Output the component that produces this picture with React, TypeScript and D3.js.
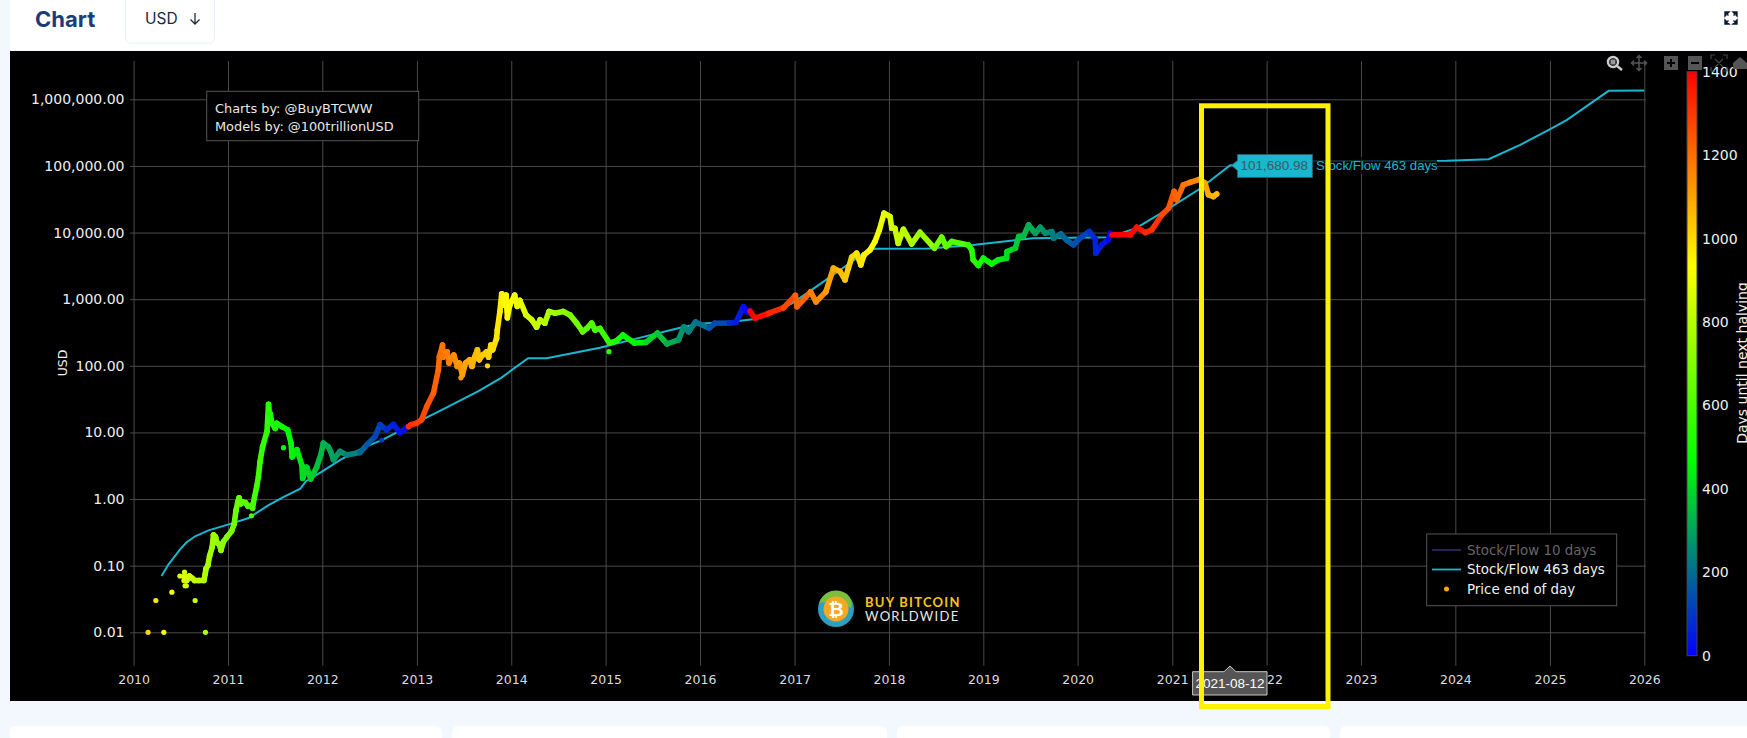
import { useEffect, useRef } from 'react';
import * as d3 from 'd3';

const width = 1747;
const height = 738;

const yearTicks = [2010, 2011, 2012, 2013, 2014, 2015, 2016, 2017, 2018, 2019, 2020, 2021, 2022, 2023, 2024, 2025, 2026];
const priceTicks = [0.01, 0.1, 1, 10, 100, 1000, 10000, 100000, 1000000];
const colorbarTicks = [0, 200, 400, 600, 800, 1000, 1200, 1400];
const halvings = ['2012-11-28', '2016-07-09', '2020-05-11', '2024-05-11'];
const legendNames = ['Stock/Flow 10 days', 'Stock/Flow 463 days', 'Price end of day'];
const cardEdges = [[10, 442], [452, 887], [897, 1330], [1340, 1760]];

// Stock/Flow 463 days model
const stockFlow: [string, number][] = [
    ['2010-04-19', 0.07], ['2010-05-15', 0.103], ['2010-06-29', 0.174], ['2010-07-25', 0.225], ['2010-08-27', 0.276], ['2010-10-18', 0.339],
    ['2011-01-07', 0.42], ['2011-03-22', 0.52], ['2011-06-04', 0.795], ['2011-08-03', 1.07], ['2011-10-08', 1.43],
    ['2011-10-30', 1.85], ['2011-12-29', 2.55], ['2012-03-12', 3.9], ['2012-06-09', 5.9], ['2012-08-22', 7.8],
    ['2012-11-19', 11.7], ['2013-03-31', 21], ['2013-08-27', 41.6], ['2013-11-23', 66], ['2014-03-07', 130],
    ['2014-05-18', 130], ['2014-12-10', 187], ['2015-05-07', 260], ['2015-10-24', 380], ['2015-12-30', 426],
    ['2016-05-11', 461], ['2016-07-24', 501], ['2016-12-19', 851], ['2017-03-18', 1462], ['2017-07-15', 3090],
    ['2017-10-12', 5500], ['2017-11-10', 5690], ['2018-06-05', 5750], ['2018-11-22', 6530], ['2019-05-12', 7760],
    ['2019-07-10', 8200], ['2020-05-02', 8510], ['2020-08-14', 11640], ['2020-12-10', 21900], ['2021-04-15', 44700],
    ['2021-08-12', 101680.98], ['2021-10-20', 117000], ['2023-11-29', 120000], ['2024-05-09', 126000], ['2024-09-08', 207000],
    ['2025-01-02', 357000], ['2025-03-08', 490000], ['2025-08-16', 1340000], ['2026-01-01', 1355000],
];
const tagPoint = stockFlow[41];

// Lone price dots
const priceDots: [string, number][] = [
    ['2010-02-26', 0.01], ['2010-03-28', 0.03], ['2010-04-28', 0.01], ['2010-05-29', 0.04], ['2010-06-29', 0.07],
    ['2010-07-17', 0.08], ['2010-07-19', 0.05], ['2010-07-24', 0.05], ['2010-08-27', 0.03], ['2010-10-06', 0.01],
    ['2011-04-02', 0.56], ['2011-08-04', 5.9], ['2012-08-18', 7.7], ['2013-10-01', 100], ['2013-06-20', 66], ['2015-01-14', 163],
];

// Price end of day
const closePrice: [string, number][] = [
    ['2010-07-16', 0.06], ['2010-07-18', 0.07], ['2010-07-25', 0.06], ['2010-08-05', 0.07], ['2010-08-15', 0.065],
    ['2010-08-25', 0.06], ['2010-09-10', 0.06], ['2010-09-30', 0.06], ['2010-10-05', 0.075], ['2010-10-08', 0.09],
    ['2010-10-15', 0.1], ['2010-10-22', 0.14], ['2010-11-01', 0.19], ['2010-11-06', 0.29], ['2010-11-14', 0.27],
    ['2010-11-20', 0.22], ['2010-11-28', 0.21], ['2010-12-05', 0.17], ['2010-12-15', 0.23], ['2010-12-28', 0.27],
    ['2011-01-15', 0.33], ['2011-01-25', 0.42], ['2011-02-01', 0.67], ['2011-02-08', 0.9], ['2011-02-13', 1.04],
    ['2011-02-20', 0.85], ['2011-03-01', 0.9], ['2011-03-10', 0.88], ['2011-03-20', 0.78], ['2011-03-30', 0.78],
    ['2011-04-06', 0.73], ['2011-04-09', 0.86], ['2011-04-22', 1.53], ['2011-04-29', 2.17], ['2011-05-05', 3.6],
    ['2011-05-15', 6.1], ['2011-06-01', 10.3], ['2011-06-07', 26.5], ['2011-06-11', 17.3], ['2011-06-14', 19],
    ['2011-06-20', 13.7], ['2011-07-03', 11.5], ['2011-07-09', 13.7], ['2011-07-29', 12.2], ['2011-08-20', 10.9],
    ['2011-09-02', 6.9], ['2011-09-06', 4.3], ['2011-09-25', 5.5], ['2011-10-14', 3.2], ['2011-10-17', 2.05],
    ['2011-11-02', 3], ['2011-11-17', 2], ['2011-12-10', 3], ['2011-12-26', 4.6], ['2012-01-05', 6.9],
    ['2012-01-24', 6.1], ['2012-02-02', 5.2], ['2012-02-13', 3.9], ['2012-03-09', 5.2], ['2012-04-04', 4.6],
    ['2012-05-26', 5], ['2012-06-21', 6.5], ['2012-07-23', 8.65], ['2012-08-11', 13], ['2012-09-06', 10.9],
    ['2012-10-02', 13.2], ['2012-10-27', 9.9], ['2012-11-19', 11.5], ['2012-11-29', 12.2], ['2012-12-08', 13],
    ['2012-12-31', 13.7], ['2013-01-19', 15.5], ['2013-02-08', 24.5], ['2013-03-06', 39], ['2013-03-25', 87],
    ['2013-03-29', 138], ['2013-04-10', 204], ['2013-04-12', 135], ['2013-04-16', 138], ['2013-04-28', 162],
    ['2013-05-05', 110], ['2013-05-14', 130], ['2013-05-24', 145], ['2013-06-06', 98], ['2013-06-14', 110],
    ['2013-06-26', 73], ['2013-07-08', 110], ['2013-07-24', 123], ['2013-08-02', 98], ['2013-08-12', 135],
    ['2013-08-23', 174], ['2013-08-30', 123], ['2013-09-12', 145], ['2013-09-27', 162], ['2013-10-05', 135],
    ['2013-10-14', 204], ['2013-10-21', 174], ['2013-11-05', 257], ['2013-11-08', 345], ['2013-11-18', 650],
    ['2013-11-25', 1200], ['2013-12-04', 813], ['2013-12-12', 1150], ['2013-12-17', 525], ['2013-12-26', 813],
    ['2014-01-14', 1150], ['2014-01-24', 780], ['2014-02-03', 960], ['2014-02-27', 581], ['2014-03-21', 490],
    ['2014-04-09', 380], ['2014-04-22', 490], ['2014-05-11', 437], ['2014-05-27', 653], ['2014-06-19', 617],
    ['2014-07-21', 653], ['2014-08-16', 581], ['2014-09-11', 437], ['2014-10-04', 324], ['2014-10-20', 364],
    ['2014-11-08', 437], ['2014-11-21', 345], ['2014-12-10', 364], ['2015-01-16', 220], ['2015-02-10', 235],
    ['2015-03-09', 290], ['2015-04-22', 220], ['2015-06-06', 225], ['2015-07-20', 310], ['2015-08-26', 213],
    ['2015-10-10', 245], ['2015-10-31', 385], ['2015-11-18', 325], ['2015-12-15', 455], ['2016-02-05', 367],
    ['2016-02-27', 435], ['2016-04-26', 440], ['2016-05-19', 450], ['2016-06-17', 770], ['2016-07-01', 650],
    ['2016-07-08', 660], ['2016-07-12', 660], ['2016-08-01', 520], ['2016-09-22', 610], ['2016-11-20', 745],
    ['2017-01-04', 1140], ['2017-01-10', 770], ['2017-03-04', 1290], ['2017-03-25', 910], ['2017-05-02', 1290],
    ['2017-05-31', 2920], ['2017-06-26', 2600], ['2017-07-15', 1950], ['2017-07-28', 2917], ['2017-08-10', 4270],
    ['2017-08-29', 4900], ['2017-09-14', 3275], ['2017-09-27', 4620], ['2017-10-20', 5500], ['2017-11-08', 7330],
    ['2017-11-25', 10960], ['2017-12-13', 19500], ['2018-01-05', 17400], ['2018-01-12', 11600], ['2018-01-24', 11600],
    ['2018-02-06', 6900], ['2018-02-26', 11200], ['2018-03-30', 6760], ['2018-05-01', 10100], ['2018-06-26', 5820],
    ['2018-07-24', 8510], ['2018-08-10', 6170], ['2018-09-01', 7330], ['2018-11-04', 6530], ['2018-11-17', 5500],
    ['2018-11-23', 3890], ['2018-12-13', 3200], ['2019-01-01', 4120], ['2019-02-02', 3390], ['2019-02-28', 3890],
    ['2019-04-01', 4120], ['2019-04-03', 5190], ['2019-05-05', 5820], ['2019-05-18', 8710], ['2019-06-06', 8910],
    ['2019-06-25', 13030], ['2019-07-21', 9770], ['2019-08-09', 12000], ['2019-08-29', 9770], ['2019-09-23', 10350],
    ['2019-09-30', 8240], ['2019-10-28', 9550], ['2019-11-21', 7590], ['2019-12-16', 6550], ['2020-01-10', 8240],
    ['2020-02-15', 10350], ['2020-03-09', 7950], ['2020-03-11', 4900], ['2020-04-03', 6550], ['2020-04-29', 7770],
    ['2020-05-05', 9770], ['2020-05-12', 9250], ['2020-07-23', 9250], ['2020-08-17', 12000], ['2020-09-19', 10000],
    ['2020-10-14', 11000], ['2020-11-22', 18500], ['2020-12-18', 23200], ['2021-01-08', 41400], ['2021-01-18', 31000],
    ['2021-02-13', 52100], ['2021-03-11', 56500], ['2021-04-18', 63100], ['2021-05-08', 55000], ['2021-05-21', 36900],
    ['2021-06-09', 34700], ['2021-06-22', 38000],
];

const cyan = '#17b8d0';
const gridColor = '#4a4a4a';
const tickFont = '"DejaVu Sans", sans-serif';
const parseDay = (s: string) => new Date(s + 'T00:00:00Z');
const DAY = 86400000;

function daysToHalving(s: string) {
    const t = parseDay(s).getTime();
    const next = halvings.map(parseDay).find(h => h.getTime() >= t);
    return next ? (next.getTime() - t) / DAY : 1400;
}

export default function App() {
    const svgRef = useRef<SVGSVGElement>(null);

    useEffect(() => {
        if (!svgRef.current) return;
        const svg = d3.select(svgRef.current);
        svg.selectAll('*').remove();

        const x = d3.scaleUtc()
            .domain([new Date(Date.UTC(2010, 0, 1)), new Date(Date.UTC(2026, 0, 1))])
            .range([133.6, 1644.3]);
        const y = d3.scaleLog().domain([0.01, 1000000]).range([632.3, 99.3]);
        const heat = d3.scaleLinear<string>()
            .domain([0, 466.67, 933.33, 1400])
            .range(['#0000ff', '#00ff00', '#ffff00', '#ff0000'])
            .clamp(true);

        // Page furniture
        svg.append('rect').attr('width', width).attr('height', height).attr('fill', '#f3f8ff');
        svg.append('rect').attr('x', 10).attr('width', width).attr('height', 50).attr('fill', '#fff');
        svg.append('rect').attr('x', 10).attr('y', 51).attr('width', width).attr('height', 650).attr('fill', '#000');
        svg.append('g').selectAll('rect').data(cardEdges).join('rect')
            .attr('x', d => d[0]).attr('y', 726).attr('width', d => d[1] - d[0]).attr('height', 40).attr('rx', 6)
            .attr('fill', '#fff');

        svg.append('text').attr('x', 35).attr('y', 27).text('Chart')
            .style('font', '700 22px Inter, sans-serif').style('fill', '#1a3c78');
        svg.append('rect').attr('x', 125.5).attr('y', -4).attr('width', 89).attr('height', 47).attr('rx', 5)
            .attr('fill', '#fff').attr('stroke', '#e8eef8');
        svg.append('text').attr('x', 145).attr('y', 24).text('USD')
            .style('font', '400 15.5px Inter, sans-serif').style('fill', '#1b2a41');
        svg.append('path').attr('d', 'M195 13V24M190.5 19.5L195 24L199.5 19.5')
            .attr('fill', 'none').attr('stroke', '#1b2a41').attr('stroke-width', 1.3);
        svg.append('path').attr('d', 'M1725 12l3.5 3.5M1737 12l-3.5 3.5M1725 24l3.5-3.5M1737 24l-3.5-3.5M1725 12h4l-4 4zM1737 12h-4l4 4zM1725 24h4l-4-4zM1737 24h-4l4-4z')
            .attr('fill', '#0a1a33').attr('stroke', '#0a1a33').attr('stroke-width', 1.4);

        // Grid and axes
        const gridTop = 61;
        const gridBottom = 665.7;
        svg.append('g').attr('transform', `translate(0,${gridBottom})`)
            .call(d3.axisBottom(x)
                .tickValues(yearTicks.map(v => new Date(Date.UTC(v, 0, 1))))
                .tickSize(-(gridBottom - gridTop))
                .tickPadding(9)
                .tickFormat(d => String((d as Date).getUTCFullYear())))
            .call(g => g.select('.domain').remove())
            .call(g => g.selectAll('line').attr('stroke', gridColor).attr('stroke-width', 1))
            .call(g => g.selectAll('text').style('fill', '#dcdcdc').style('font', `12.5px ${tickFont}`));
        svg.append('g').attr('transform', 'translate(1646,0)')
            .call(d3.axisLeft(y)
                .tickValues(priceTicks)
                .tickSize(1646 - 130)
                .tickPadding(5.5)
                .tickFormat(d => d3.format(',.2f')(d as number)))
            .call(g => g.select('.domain').remove())
            .call(g => g.selectAll('line').attr('stroke', gridColor).attr('stroke-width', 1))
            .call(g => g.selectAll('text').style('fill', '#f0f0f0').style('font', `14px ${tickFont}`));
        svg.append('text').attr('transform', 'translate(67,363) rotate(-90)').attr('text-anchor', 'middle').text('USD')
            .style('font', `12.5px ${tickFont}`).style('fill', '#f0f0f0');

        // Stock/Flow line
        const line = d3.line<[string, number]>().x(d => x(parseDay(d[0]))).y(d => y(d[1]));
        svg.append('path').datum(stockFlow).attr('d', line).attr('fill', 'none')
            .attr('stroke', cyan).attr('stroke-width', 2);

        // Price: strokes between closes fill the band, dots on top
        const pairs = d3.pairs(closePrice);
        svg.append('g').selectAll('line').data(pairs).join('line')
            .attr('x1', d => x(parseDay(d[0][0]))).attr('y1', d => y(d[0][1]))
            .attr('x2', d => x(parseDay(d[1][0]))).attr('y2', d => y(d[1][1]))
            .attr('stroke', d => heat(daysToHalving(d[0][0])))
            .attr('stroke-width', 5.6).attr('stroke-linecap', 'round');
        svg.append('g').selectAll('circle').data([...closePrice, ...priceDots]).join('circle')
            .attr('cx', d => x(parseDay(d[0]))).attr('cy', d => y(d[1])).attr('r', 2.6)
            .attr('fill', d => heat(daysToHalving(d[0])));

        // Credits box
        svg.append('rect').attr('x', 206.7).attr('y', 91.3).attr('width', 212).attr('height', 49.4)
            .attr('fill', '#000').attr('stroke', '#555');
        ['Charts by: @BuyBTCWW', 'Models by: @100trillionUSD'].forEach((t, i) => {
            svg.append('text').attr('x', 215).attr('y', 113 + i * 18).text(t)
                .style('font', `12.9px ${tickFont}`).style('fill', '#e8e8e8');
        });

        // Watermark
        const mark = svg.append('g');
        mark.append('circle').attr('cx', 836).attr('cy', 609).attr('r', 18).attr('fill', '#2e9fc0');
        mark.append('path').attr('d', 'M819 603a18 18 0 0 1 28-9q6 6 4 14q-9-6-15-4q-8-3-17-1z').attr('fill', '#7cbf3f');
        mark.append('circle').attr('cx', 836).attr('cy', 609).attr('r', 12.5).attr('fill', '#f7a823');
        mark.append('text').attr('x', 836).attr('y', 616).attr('text-anchor', 'middle').text('₿')
            .style('font', `700 19px ${tickFont}`).style('fill', '#fff');
        mark.append('text').attr('x', 865).attr('y', 607).text('BUY BITCOIN')
            .style('font', '700 13px Lato, sans-serif').style('letter-spacing', '1.25px').style('fill', '#f5c518');
        mark.append('text').attr('x', 865).attr('y', 621).text('WORLDWIDE')
            .style('font', '400 13px Lato, sans-serif').style('letter-spacing', '1.3px').style('fill', '#e8e8e8');

        // Legend
        svg.append('rect').attr('x', 1426.7).attr('y', 534).attr('width', 190).attr('height', 71.7)
            .attr('fill', '#000').attr('stroke', '#555');
        const legendY = d3.scalePoint<string>().domain(legendNames).range([550, 589]);
        legendNames.forEach((name, i) => {
            const ly = legendY(name) as number;
            if (i < 2) {
                svg.append('line').attr('x1', 1432).attr('x2', 1461).attr('y1', ly).attr('y2', ly)
                    .attr('stroke', i === 0 ? '#2f2a5f' : cyan).attr('stroke-width', 1.8);
            } else {
                svg.append('circle').attr('cx', 1446.5).attr('cy', ly).attr('r', 2.5).attr('fill', '#ffa500');
            }
            svg.append('text').attr('x', 1467).attr('y', ly + 4.5).text(name)
                .style('font', `13.4px ${tickFont}`).style('fill', i === 0 ? '#666' : '#f0f0f0');
        });

        // Colour bar
        const barY = d3.scaleLinear().domain([0, 1400]).range([655.7, 71.7]);
        const defs = svg.append('defs');
        const grad = defs.append('linearGradient').attr('id', 'halvingGradient')
            .attr('x1', 0).attr('x2', 0).attr('y1', 1).attr('y2', 0);
        heat.domain().forEach(v => {
            grad.append('stop').attr('offset', `${(v / 1400) * 100}%`).attr('stop-color', heat(v));
        });
        svg.append('rect').attr('x', 1687).attr('y', barY(1400)).attr('width', 10).attr('height', barY(0) - barY(1400))
            .attr('fill', 'url(#halvingGradient)').attr('stroke', '#444');
        svg.append('g').selectAll('text').data(colorbarTicks).join('text')
            .attr('x', 1702).attr('y', d => barY(d) + 5).text(d => d)
            .style('font', `14px ${tickFont}`).style('fill', '#f0f0f0');
        svg.append('text').attr('transform', 'translate(1747,363) rotate(-90)').attr('text-anchor', 'middle')
            .text('Days until next halving')
            .style('font', `14px ${tickFont}`).style('fill', '#f0f0f0');

        // Toolbox
        const tools = svg.append('g');
        tools.append('circle').attr('cx', 1613).attr('cy', 62).attr('r', 5).attr('fill', 'none').attr('stroke', '#ccc').attr('stroke-width', 2.5);
        tools.append('path').attr('d', 'M1617 66l5 4').attr('stroke', '#ccc').attr('stroke-width', 2.5);
        tools.append('rect').attr('x', 1610.5).attr('y', 59.5).attr('width', 5).attr('height', 5).attr('fill', '#999');
        tools.append('path').attr('d', 'M1639 56v14M1632 63h14M1636.5 58l2.5-2.5l2.5 2.5M1636.5 68l2.5 2.5l2.5-2.5M1634 60.5l-2.5 2.5l2.5 2.5M1644 60.5l2.5 2.5l-2.5 2.5')
            .attr('fill', 'none').attr('stroke', '#555').attr('stroke-width', 1.5);
        tools.append('rect').attr('x', 1664).attr('y', 56).attr('width', 14).attr('height', 14).attr('fill', '#555');
        tools.append('path').attr('d', 'M1671 59v8M1667 63h8').attr('stroke', '#000').attr('stroke-width', 2);
        tools.append('rect').attr('x', 1688).attr('y', 56).attr('width', 14).attr('height', 14).attr('fill', '#555');
        tools.append('path').attr('d', 'M1691 63h8').attr('stroke', '#000').attr('stroke-width', 2);
        tools.append('path').attr('d', 'M1711 59v-4h4M1727 59v-4h-4M1711 67v4h4M1727 67v4h-4M1715 59l8 8M1723 59l-8 8')
            .attr('fill', 'none').attr('stroke', '#444').attr('stroke-width', 1.2);
        tools.append('path').attr('d', 'M1733 63l7-6l7 6v6h-14z').attr('fill', '#555');

        // Crosshair pointer labels
        const tagX = x(parseDay(tagPoint[0])) + 1.5;
        const tagY = y(tagPoint[1]);
        svg.append('rect').attr('x', 1313).attr('y', 157).attr('width', 124).attr('height', 17).attr('fill', '#000').attr('opacity', 0.75);
        svg.append('path')
            .attr('d', `M${tagX} ${tagY}L${tagX + 6} ${tagY - 5}V${tagY - 11}H${tagX + 81}V${tagY + 12}H${tagX + 6}V${tagY + 5}Z`)
            .attr('fill', cyan).attr('stroke', '#2b5e68');
        svg.append('text').attr('x', tagX + 9).attr('y', tagY + 5).text(d3.format(',.2f')(tagPoint[1]))
            .style('font', '13.5px "Liberation Sans", sans-serif').style('fill', '#3c5a60');
        svg.append('text').attr('x', 1316).attr('y', tagY + 5).text('Stock/Flow 463 days')
            .style('font', '13.2px "Liberation Sans", sans-serif').style('fill', cyan);

        svg.append('path').attr('d', 'M1192.6 671.7H1224L1230 666L1236 671.7H1267V695H1192.6Z')
            .attr('fill', '#555').attr('stroke', '#c8c8c8');
        svg.append('text').attr('x', 1230).attr('y', 688).attr('text-anchor', 'middle').text(tagPoint[0])
            .style('font', '13.5px "Liberation Sans", sans-serif').style('fill', '#fff');

        // Yellow highlight drawn on the screenshot
        svg.append('rect').attr('x', 1201.5).attr('y', 105.8).attr('width', 126.5).attr('height', 600.7)
            .attr('fill', 'none').attr('stroke', '#fff200').attr('stroke-width', 5);
    }, []);

    return (
        <svg ref={svgRef} width={width} height={height} viewBox={`0 0 ${width} ${height}`}
            style={{ position: 'fixed', top: 0, left: 0, display: 'block' }} />
    );
}
